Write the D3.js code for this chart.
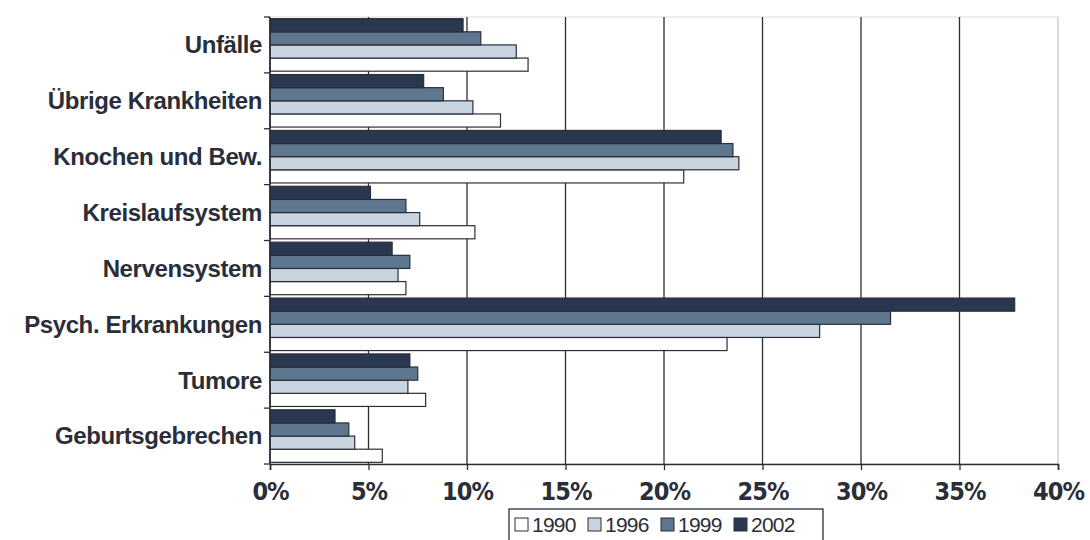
<!DOCTYPE html>
<html>
<head>
<meta charset="utf-8">
<script src="https://cdn.jsdelivr.net/npm/d3@7"></script>
<style>
  body { margin: 0; background: #fff; }
  svg { display: block; }
</style>
</head>
<body>
<div id="chart"></div>
<script>
// categories top to bottom
var categories = ["Unfälle", "Übrige Krankheiten", "Knochen und Bew.", "Kreislaufsystem",
                  "Nervensystem", "Psych. Erkrankungen", "Tumore", "Geburtsgebrechen"];
var years = ["1990", "1996", "1999", "2002"];

// percent values per year, same order as categories
var values1990 = [13.1, 11.7, 21.0, 10.4, 6.9, 23.2, 7.9, 5.7];
var values1996 = [12.5, 10.3, 23.8, 7.6, 6.5, 27.9, 7.0, 4.3];
var values1999 = [10.7, 8.8, 23.5, 6.9, 7.1, 31.5, 7.5, 4.0];
var values2002 = [9.8, 7.8, 22.9, 5.1, 6.2, 37.8, 7.1, 3.3];

var xTicks = [0, 5, 10, 15, 20, 25, 30, 35, 40];

var series = [values1990, values1996, values1999, values2002];
var colors = ["#ffffff", "#c8d4e0", "#5e778e", "#293850"];

var width = 1090, height = 540;
var margin = {left: 270, right: 32, top: 17, bottom: 76};

var svg = d3.select("#chart")
            .append("svg")
            .attr("width", width)
            .attr("height", height);

var x = d3.scaleLinear()
          .domain([0, 40])
          .range([margin.left, width - margin.right]);

var y = d3.scaleBand()
          .domain(categories)
          .range([margin.top, height - margin.bottom])
          .paddingInner(0.06)
          .paddingOuter(0.03);

// 2002 on top, 1990 at the bottom of each group
var ySub = d3.scaleBand()
             .domain(["2002", "1999", "1996", "1990"])
             .range([0, y.bandwidth()]);

var textColor = "#2a2e38";

// plot frame (faint)
svg.append("rect")
   .attr("x", x(0))
   .attr("y", margin.top)
   .attr("width", x(40) - x(0))
   .attr("height", height - margin.bottom - margin.top)
   .attr("fill", "none")
   .attr("stroke", "#dcdcdc");

// vertical grid
svg.append("g")
   .selectAll("line")
   .data(xTicks.slice(1))
   .enter()
   .append("line")
   .attr("x1", function (d) { return x(d); })
   .attr("x2", function (d) { return x(d); })
   .attr("y1", margin.top)
   .attr("y2", height - margin.bottom)
   .attr("stroke", function (d) { return d === 40 ? "#cfcfcf" : "#2a2e38"; })
   .attr("stroke-width", 1.3);

// bars
var groups = svg.append("g")
                .selectAll("g")
                .data(categories)
                .enter()
                .append("g")
                .attr("transform", function (d) { return "translate(0," + y(d) + ")"; });

groups.selectAll("rect")
      .data(function (d, ci) {
          return years.map(function (yr, si) {
              return {year: yr, value: series[si][ci], color: colors[si]};
          });
      })
      .enter()
      .append("rect")
      .attr("x", x(0))
      .attr("y", function (d) { return ySub(d.year); })
      .attr("width", function (d) { return x(d.value) - x(0); })
      .attr("height", ySub.bandwidth())
      .attr("fill", function (d) { return d.color; })
      .attr("stroke", "#2a2e38")
      .attr("stroke-width", 1.2);

// x axis
var xAxis = svg.append("g")
               .attr("transform", "translate(0," + (height - margin.bottom) + ")")
               .call(d3.axisBottom(x)
                       .tickValues(xTicks)
                       .tickFormat(function (d) { return d + "%"; })
                       .tickSize(6)
                       .tickPadding(12));
xAxis.select(".domain").attr("stroke", textColor).attr("stroke-width", 1.6);
xAxis.selectAll(".tick line").attr("stroke", textColor).attr("stroke-width", 1.3);
xAxis.selectAll("text")
     .attr("fill", textColor)
     .style("font-family", "'DejaVu Sans Condensed', 'Liberation Sans Narrow', sans-serif")
     .style("font-stretch", "condensed")
     .style("font-weight", "bold")
     .style("font-size", "25px")
     .style("letter-spacing", "-1px");

// y axis: ticks at category boundaries
var yAxisG = svg.append("g");
yAxisG.append("line")
      .attr("x1", x(0))
      .attr("x2", x(0))
      .attr("y1", margin.top)
      .attr("y2", height - margin.bottom)
      .attr("stroke", textColor)
      .attr("stroke-width", 1.6);

var boundaries = d3.range(categories.length + 1).map(function (i) {
    return y.range()[0] + i * (y.range()[1] - y.range()[0]) / categories.length;
});
yAxisG.selectAll(".ytick")
      .data(boundaries)
      .enter()
      .append("line")
      .attr("class", "ytick")
      .attr("x1", x(0) - 6)
      .attr("x2", x(0))
      .attr("y1", function (d) { return d; })
      .attr("y2", function (d) { return d; })
      .attr("stroke", textColor)
      .attr("stroke-width", 1.3);

yAxisG.selectAll(".ylabel")
      .data(categories)
      .enter()
      .append("text")
      .attr("class", "ylabel")
      .attr("x", x(0) - 8)
      .attr("y", function (d) { return y(d) + y.bandwidth() / 2; })
      .attr("dy", "0.35em")
      .attr("text-anchor", "end")
      .attr("fill", textColor)
      .style("font-family", "'Liberation Sans', Arial, sans-serif")
      .style("font-weight", "bold")
      .style("font-size", "24px")
      .style("letter-spacing", "-0.4px")
      .text(function (d) { return d; });

// legend
var legend = svg.append("g").attr("transform", "translate(509,509)");
legend.append("rect")
      .attr("width", 314)
      .attr("height", 34)
      .attr("fill", "#fff")
      .attr("stroke", textColor)
      .attr("stroke-width", 1.3);

var legendItem = legend.selectAll(".item")
      .data(years)
      .enter()
      .append("g")
      .attr("class", "item")
      .attr("transform", function (d, i) { return "translate(" + (6 + i * 73) + ",0)"; });

legendItem.append("rect")
          .attr("y", 9)
          .attr("width", 13)
          .attr("height", 13)
          .attr("fill", function (d, i) { return colors[i]; })
          .attr("stroke", textColor)
          .attr("stroke-width", 1);

legendItem.append("text")
          .attr("x", 17)
          .attr("y", 23)
          .attr("fill", textColor)
          .style("font-family", "'Liberation Sans', Arial, sans-serif")
          .style("font-size", "21px")
          .style("letter-spacing", "-0.8px")
          .text(function (d) { return d; });
</script>
</body>
</html>
